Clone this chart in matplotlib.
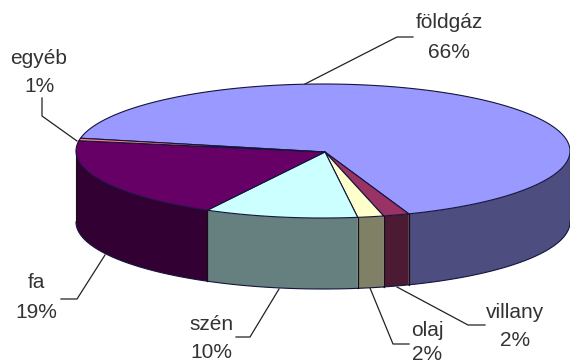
import numpy as np
import matplotlib
matplotlib.use("Agg")
import matplotlib.pyplot as plt
from matplotlib.patches import Polygon

plt.rcParams['font.family'] = ['Liberation Sans', 'DejaVu Sans']

# Adatok
labels = ['földgáz', 'villany', 'olaj', 'szén', 'fa', 'egyéb']
percents = [66, 2, 2, 10, 19, 1]
# a szeletek kepen mert merete (a feliratok kerekitettek)
shares = [66.3, 1.7, 1.7, 10.0, 19.7, 0.6]
top_colors = ['#9999ff', '#993366', '#ffffcc', '#ccffff', '#660066', '#ff8080']
side_colors = ['#4d4d80', '#4d1a33', '#808066', '#668080', '#330033', '#804040']

# Felirat helyek es vezetovonalak (pixel)
text_pos = [(449, 23), (515, 312), (427, 330), (211, 324), (36, 283), (39, 59)]
pct_pos = [(449, 52), (515, 340), (427, 354), (211, 352), (36, 312), (40, 87)]
leaders = [
    [(305, 84), (397, 37), (413, 37)],
    [(397, 287), (468, 325), (485, 325)],
    [(370, 288), (393, 344), (409, 344)],
    [(279, 289), (250, 337), (236, 337)],
    [(105, 255), (77, 299), (61, 299)],
    [(77, 141), (42, 116), (42, 98)],
]

# Ellipszis geometria
cx, cy = 323, 151
a, b = 247, 67
depth = 71
start = -79
line_col = '#14143c'


def ell(t):
    # szog felulrol, oramutato szerint, fokban
    r = np.radians(t)
    return cx + a * np.sin(r), cy - b * np.cos(r)


fig = plt.figure(figsize=(5.7, 3.64), dpi=100)
ax = fig.add_axes([0, 0, 1, 1])
ax.set_xlim(0, 570)
ax.set_ylim(364, 0)
ax.axis('off')

angles = start + np.cumsum([0] + shares) * 3.6

# oldalfalak: csak az elulso felkor latszik
for i in range(len(shares)):
    t0 = max(angles[i], 90)
    t1 = min(angles[i + 1], 270)
    if t1 <= t0:
        continue
    t = np.linspace(t0, t1, 80)
    x, y = ell(t)
    xs = np.r_[x, x[::-1]]
    ys = np.r_[y, y[::-1] + depth]
    ax.add_patch(Polygon(np.c_[xs, ys], closed=True, fc=side_colors[i], ec='none', zorder=2))
    ax.plot(x, y + depth, color=line_col, lw=0.8, zorder=3)
    for tt in (t0, t1):
        px, py = ell(tt)
        ax.plot([px, px], [py, py + depth], color='#111111', lw=0.8, zorder=3)

# felso lap
for i in range(len(shares)):
    t = np.linspace(angles[i], angles[i + 1], 200)
    x, y = ell(t)
    xs = np.r_[cx + 2, x]
    ys = np.r_[cy + 1, y]
    ax.add_patch(Polygon(np.c_[xs, ys], closed=True, fc=top_colors[i], ec=line_col, lw=0.8,
                         joinstyle='round', zorder=4))

# feliratok
for i, lab in enumerate(labels):
    ax.text(*text_pos[i], lab, ha='center', va='center', fontsize=15, color='#333333', zorder=6)
    ax.text(*pct_pos[i], f'{percents[i]}%', ha='center', va='center', fontsize=15, color='#333333',
            zorder=6)
    px, py = zip(*leaders[i])
    ax.plot(px, py, color='#222222', lw=0.9, zorder=5)

fig.savefig('out.png', dpi=100, facecolor='white')
